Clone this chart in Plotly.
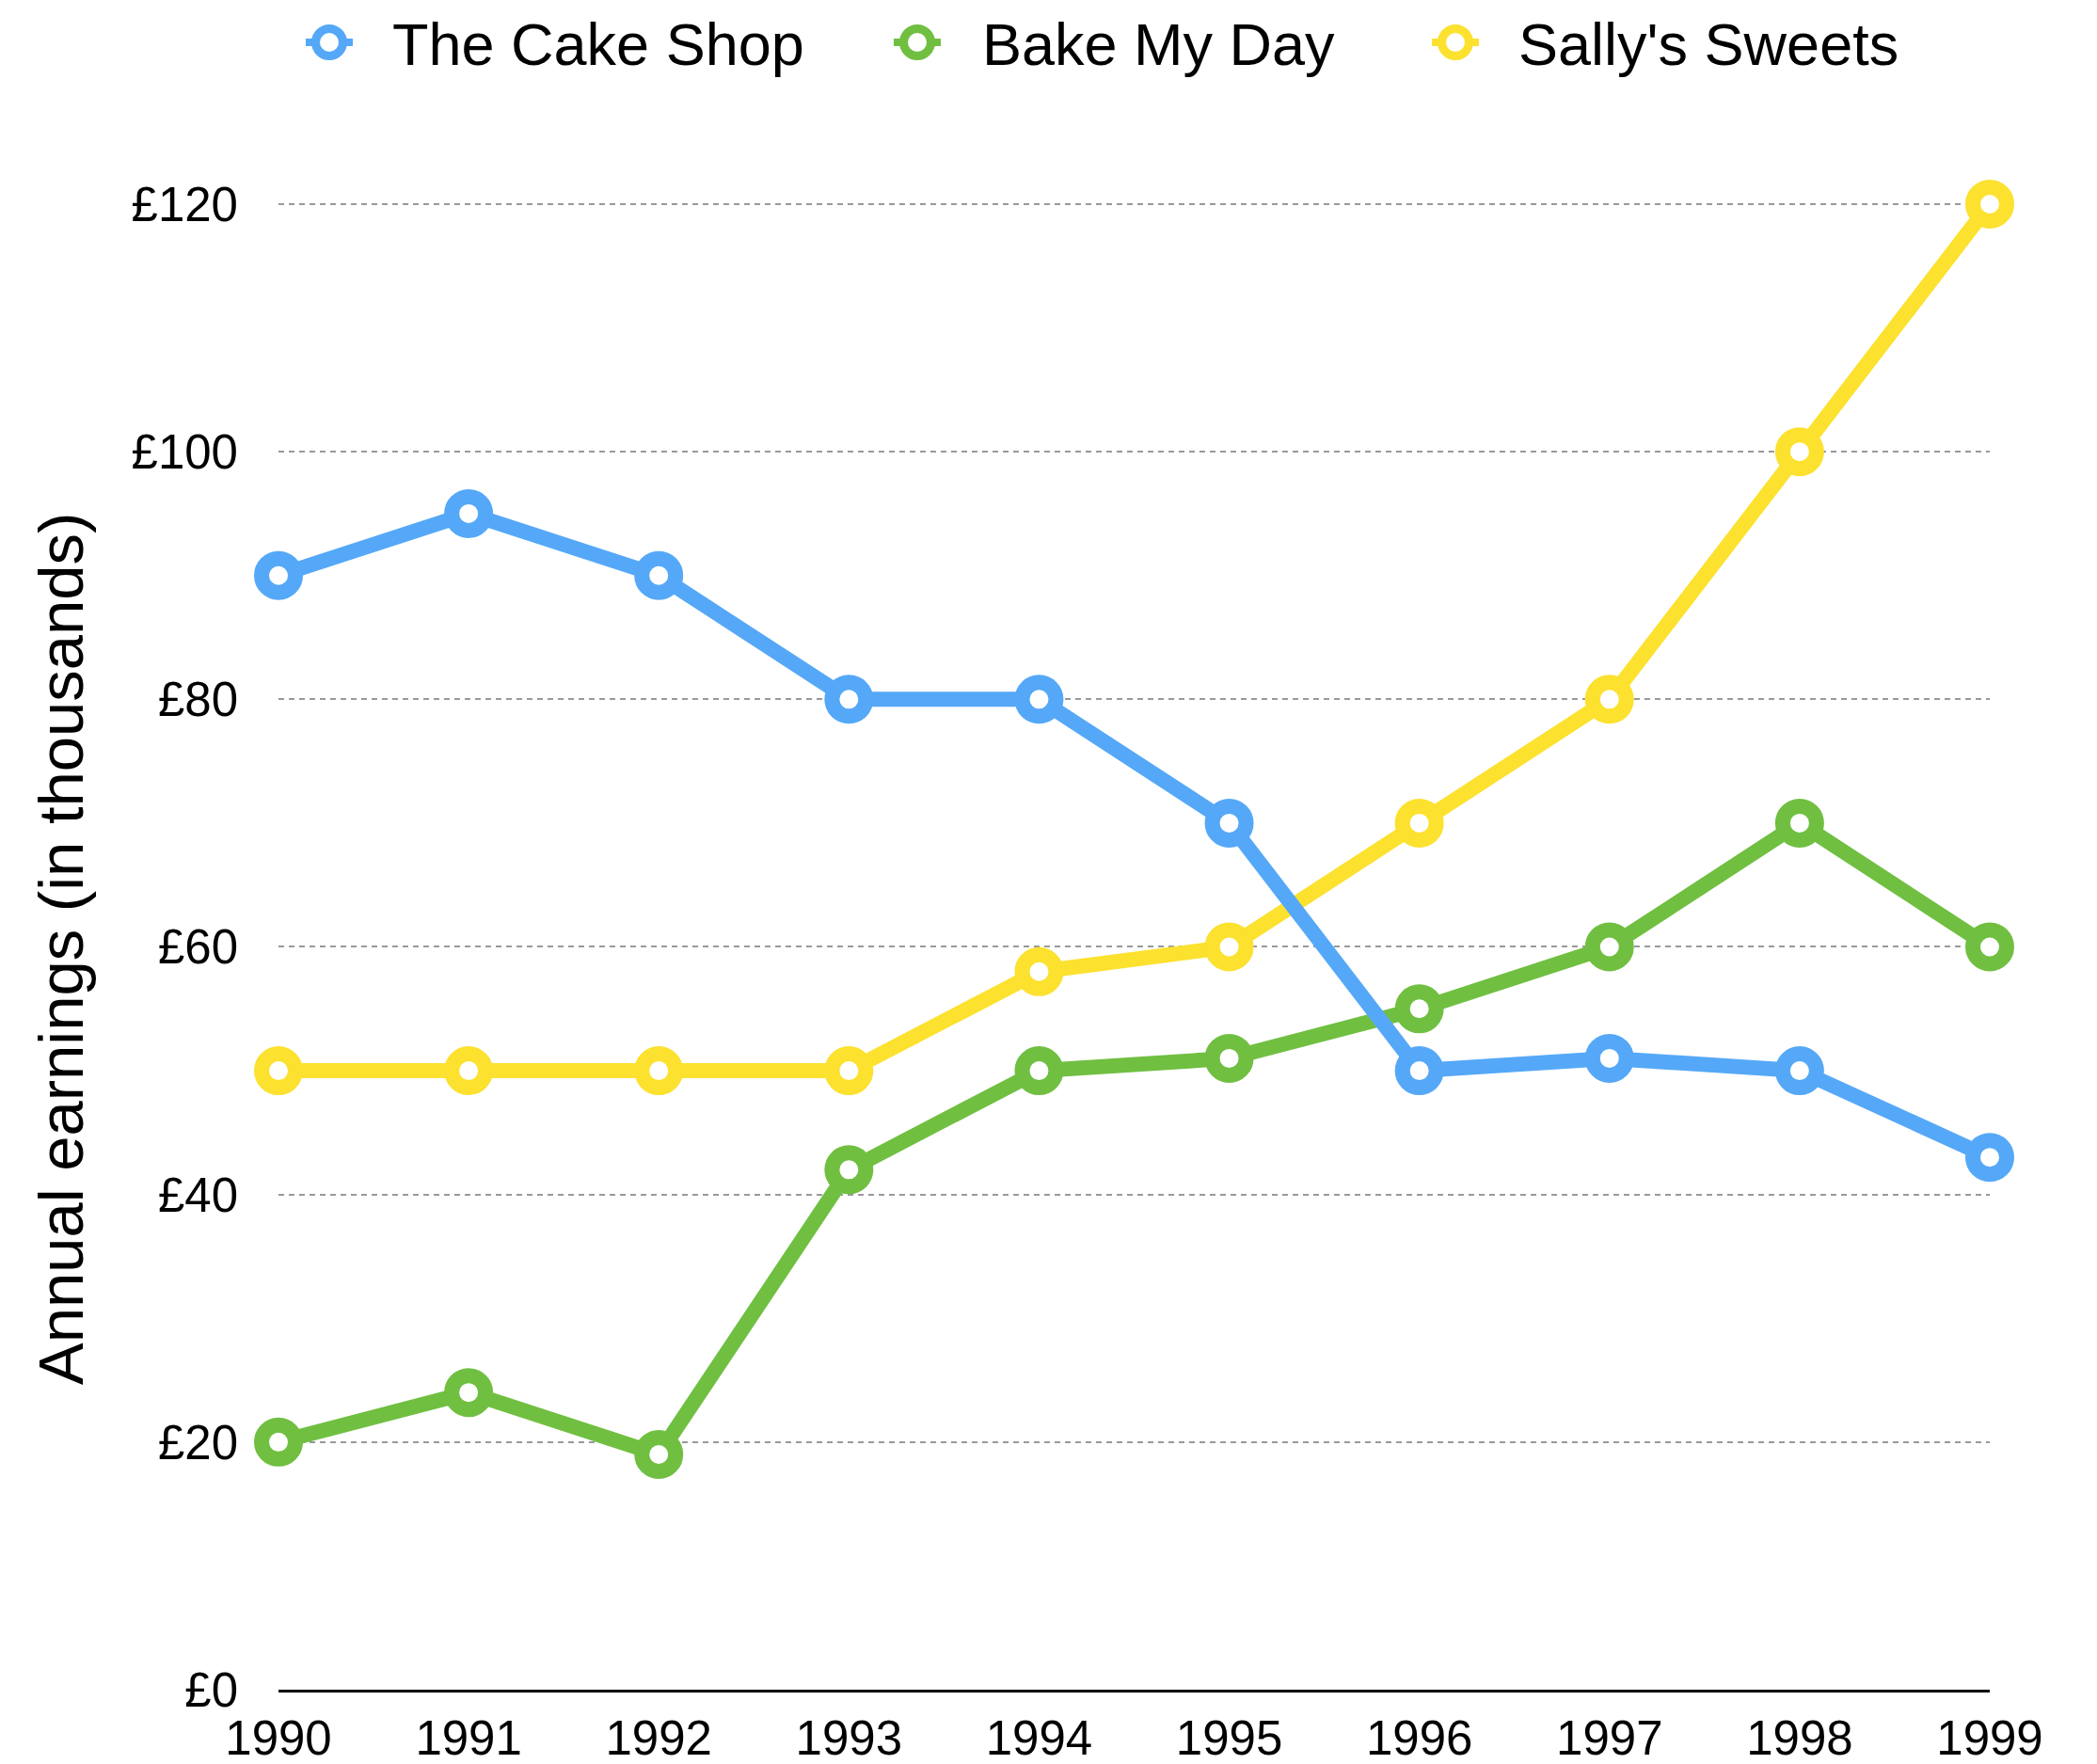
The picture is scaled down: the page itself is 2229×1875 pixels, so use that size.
import plotly.graph_objects as go

# Annual earnings per shop, in thousands of pounds
years = [1990, 1991, 1992, 1993, 1994, 1995, 1996, 1997, 1998, 1999]
cake_shop = [90, 95, 90, 80, 80, 70, 50, 51, 50, 43]
bake_my_day = [20, 24, 19, 42, 50, 51, 55, 60, 70, 60]
sallys_sweets = [50, 50, 50, 50, 58, 60, 70, 80, 100, 120]

series_names = ["The Cake Shop", "Bake My Day", "Sally's Sweets"]
series_colors = ["#55A8F7", "#70BF41", "#FCE12F"]
series_values = [cake_shop, bake_my_day, sallys_sweets]

y_ticks = [0, 20, 40, 60, 80, 100, 120]
y_tick_text = ["£0", "£20", "£40", "£60", "£80", "£100", "£120"]

W, H = 2229, 1875
# a little headroom above £120 keeps its gridline inside the plot area
L, R, T, B = 296, 114, 215, 79
Y_TOP = 120.15
FONT = "Liberation Sans"


def px_x(px):
    return (px - L) / (W - L - R)


def px_y(py):
    return (H - B - py) / (H - T - B)


fig = go.Figure()

# draw yellow first and blue last so the blue line sits on top
for name, color, vals in reversed(list(zip(series_names, series_colors, series_values))):
    fig.add_trace(go.Scatter(
        x=years, y=vals, name=name, mode="lines+markers",
        line=dict(color=color, width=16),
        marker=dict(size=36, color="white", line=dict(color=color, width=16)),
        cliponaxis=False, showlegend=False,
    ))

# custom legend row across the top
legend_marker_x = [350, 975, 1547]
legend_text_x = [415, 1042, 1612]
legend_y = 45
shapes = []
annotations = []
for name, color, mx, tx in zip(series_names, series_colors, legend_marker_x, legend_text_x):
    shapes.append(dict(
        type="line", xref="paper", yref="paper",
        xsizemode="pixel", ysizemode="pixel",
        xanchor=px_x(mx), yanchor=px_y(legend_y),
        x0=-25, x1=25, y0=0, y1=0,
        line=dict(color=color, width=8), layer="above",
    ))
    shapes.append(dict(
        type="circle", xref="paper", yref="paper",
        xsizemode="pixel", ysizemode="pixel",
        xanchor=px_x(mx), yanchor=px_y(legend_y),
        x0=-14.5, x1=14.5, y0=-14.5, y1=14.5,
        line=dict(color=color, width=9), fillcolor="white", layer="above",
    ))
    annotations.append(dict(
        text=name, xref="paper", yref="paper",
        x=px_x(tx), y=px_y(legend_y + 2), xanchor="left", yanchor="middle",
        showarrow=False, font=dict(family=FONT, size=63, color="black"),
    ))

annotations.append(dict(
    text="Annual earnings (in thousands)", xref="paper", yref="paper",
    x=px_x(64), y=px_y(1009), xanchor="center", yanchor="middle",
    textangle=-90, showarrow=False,
    font=dict(family=FONT, size=67, color="black"),
))

fig.update_layout(
    template="none",
    width=W, height=H,
    margin=dict(l=L, r=R, t=T, b=B, pad=0, autoexpand=False),
    paper_bgcolor="white", plot_bgcolor="white",
    showlegend=False,
    shapes=shapes, annotations=annotations,
    font=dict(family=FONT, color="black"),
    xaxis=dict(
        range=[1990, 1999], tickmode="array", tickvals=years,
        ticktext=[str(y) for y in years],
        showgrid=False, zeroline=False, automargin=False,
        showline=True, linecolor="black", linewidth=3,
        ticks="", ticklabelstandoff=5,
        tickfont=dict(family=FONT, size=51, color="black"),
    ),
    yaxis=dict(
        range=[0, Y_TOP], tickmode="array", tickvals=y_ticks, ticktext=y_tick_text,
        showgrid=True, gridcolor="#999999", gridwidth=2, griddash="6px,5px",
        zeroline=False, showline=False, automargin=False,
        ticks="", ticklabelstandoff=42,
        tickfont=dict(family=FONT, size=51, color="black"),
    ),
)

fig.write_html("out.html")
